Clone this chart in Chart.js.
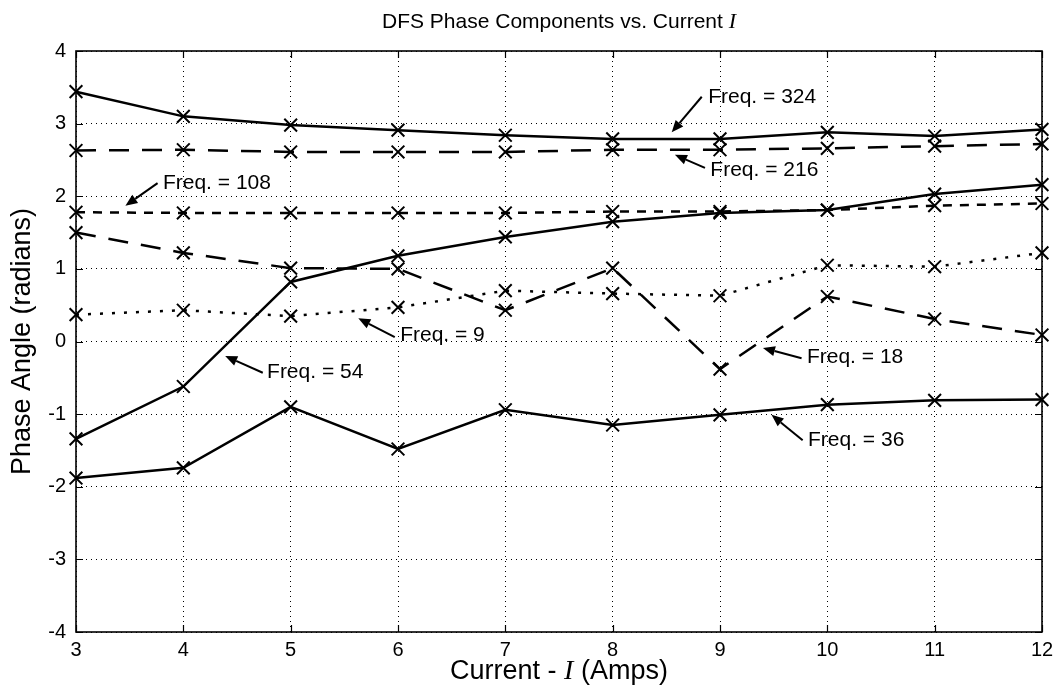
<!DOCTYPE html>
<html>
<head>
<meta charset="utf-8">
<script src="https://cdn.jsdelivr.net/npm/chart.js@4/dist/chart.umd.min.js"></script>
<style>
  html, body { margin: 0; padding: 0; background: #fff; }
  #wrap { width: 1062px; height: 696px; }
</style>
</head>
<body>
<div id="wrap"><canvas id="c" width="1062" height="696"></canvas></div>
<script>
// ---- data ----
const currents = [3, 4, 5, 6, 7, 8, 9, 10, 11, 12];
const freq9   = [0.37, 0.43, 0.35, 0.47, 0.70, 0.66, 0.63, 1.05, 1.03, 1.22];
const freq18  = [1.50, 1.22, 1.01, 1.00, 0.43, 1.01, -0.38, 0.62, 0.31, 0.09];
const freq36  = [-1.88, -1.74, -0.90, -1.48, -0.94, -1.15, -1.01, -0.87, -0.81, -0.80];
const freq54  = [-1.34, -0.62, 0.82, 1.18, 1.44, 1.65, 1.77, 1.81, 2.03, 2.16];
const freq108 = [1.78, 1.77, 1.77, 1.77, 1.77, 1.79, 1.79, 1.81, 1.87, 1.90];
const freq216 = [2.63, 2.64, 2.61, 2.61, 2.61, 2.64, 2.64, 2.66, 2.69, 2.72];
const freq324 = [3.44, 3.10, 2.98, 2.91, 2.84, 2.79, 2.79, 2.88, 2.83, 2.92];
const xTicks = [3, 4, 5, 6, 7, 8, 9, 10, 11, 12];
const yTicks = [-4, -3, -2, -1, 0, 1, 2, 3, 4];

const titleText = ['DFS Phase Components vs. Current ', 'I'];
const xLabelText = ['Current - ', 'I', ' (Amps)'];
const yLabelText = 'Phase Angle (radians)';

// annotation labels: text, text anchor (data), arrow tail (data), arrow head (data)
const noteTexts = ['Freq. = 324', 'Freq. = 216', 'Freq. = 108', 'Freq. = 54', 'Freq. = 9', 'Freq. = 18', 'Freq. = 36'];
const noteTextX = [8.89, 8.91, 3.81, 4.78, 6.02, 9.81, 9.82];
const noteTextY = [3.37, 2.36, 2.18, -0.42, 0.09, -0.21, -1.36];
const noteTailX = [8.83, 8.86, 3.76, 4.74, 5.97, 9.76, 9.77];
const noteTailY = [3.37, 2.39, 2.18, -0.43, 0.06, -0.23, -1.36];
const noteHeadX = [8.55, 8.58, 3.46, 4.39, 5.63, 9.40, 9.48];
const noteHeadY = [2.88, 2.57, 1.87, -0.20, 0.32, -0.09, -1.01];

const FONT = '"Liberation Sans", Arial, Helvetica, sans-serif';
const SERIF = '"Liberation Serif", "Times New Roman", serif';

function series(label, ys, dash) {
  return {
    label: label,
    data: currents.map((x, i) => ({ x: x, y: ys[i] })),
    borderColor: '#000',
    backgroundColor: '#000',
    borderWidth: 2.5,
    borderDash: dash,
    pointStyle: 'crossRot',
    pointRadius: 9,
    pointBorderWidth: 2,
    pointBorderColor: '#000',
    pointHoverRadius: 9,
    tension: 0,
    fill: false,
    clip: false
  };
}

const PLOT = { left: 76, top: 51, right: 1042, bottom: 632 };

const decor = {
  id: 'decor',
  beforeDatasetsDraw(chart) {
    const ctx = chart.ctx, xs = chart.scales.x, ys = chart.scales.y;
    const a = chart.chartArea;
    ctx.save();
    ctx.strokeStyle = '#000';
    ctx.lineWidth = 1.2;
    const L = 7;
    xTicks.forEach(v => {
      const px = Math.round(xs.getPixelForValue(v)) + 0.5;
      ctx.beginPath();
      ctx.moveTo(px, a.bottom); ctx.lineTo(px, a.bottom - L);
      ctx.moveTo(px, a.top); ctx.lineTo(px, a.top + L);
      ctx.stroke();
    });
    yTicks.forEach(v => {
      const py = Math.round(ys.getPixelForValue(v)) + 0.5;
      ctx.beginPath();
      ctx.moveTo(a.left, py); ctx.lineTo(a.left + L, py);
      ctx.moveTo(a.right, py); ctx.lineTo(a.right - L, py);
      ctx.stroke();
    });
    ctx.restore();
  },
  afterDraw(chart) {
    const ctx = chart.ctx, xs = chart.scales.x, ys = chart.scales.y;
    const a = chart.chartArea;
    ctx.save();
    ctx.strokeStyle = '#000';
    ctx.lineWidth = 1.6;
    ctx.strokeRect(a.left, a.top, a.right - a.left, a.bottom - a.top);

    ctx.fillStyle = '#000';
    ctx.font = '21px ' + FONT;
    ctx.textBaseline = 'middle';
    ctx.textAlign = 'left';
    noteTexts.forEach((t, i) => {
      const tx = xs.getPixelForValue(noteTextX[i]);
      const ty = ys.getPixelForValue(noteTextY[i]);
      ctx.fillText(t, tx, ty);
      const x1 = xs.getPixelForValue(noteTailX[i]), y1 = ys.getPixelForValue(noteTailY[i]);
      const x2 = xs.getPixelForValue(noteHeadX[i]), y2 = ys.getPixelForValue(noteHeadY[i]);
      const ang = Math.atan2(y2 - y1, x2 - x1);
      const hl = 12, hw = 5;
      const bx = x2 - hl * Math.cos(ang), by = y2 - hl * Math.sin(ang);
      ctx.lineWidth = 2;
      ctx.beginPath(); ctx.moveTo(x1, y1); ctx.lineTo(bx, by); ctx.stroke();
      ctx.beginPath();
      ctx.moveTo(x2, y2);
      ctx.lineTo(bx + hw * Math.sin(ang), by - hw * Math.cos(ang));
      ctx.lineTo(bx - hw * Math.sin(ang), by + hw * Math.cos(ang));
      ctx.closePath(); ctx.fill();
    });

    function mixed(parts, fonts, cx, cy) {
      let w = 0;
      parts.forEach((p, i) => { ctx.font = fonts[i]; w += ctx.measureText(p).width; });
      let x = cx - w / 2;
      ctx.textAlign = 'left';
      ctx.textBaseline = 'middle';
      parts.forEach((p, i) => { ctx.font = fonts[i]; ctx.fillText(p, x, cy); x += ctx.measureText(p).width; });
    }
    const cx = (a.left + a.right) / 2;
    mixed(titleText, ['21px ' + FONT, 'italic 22px ' + SERIF], cx, 22);
    mixed(xLabelText, ['27px ' + FONT, 'italic 28px ' + SERIF, '27px ' + FONT], cx, 672);
    ctx.translate(23, (a.top + a.bottom) / 2);
    ctx.rotate(-Math.PI / 2);
    ctx.font = '27px ' + FONT;
    ctx.textAlign = 'center';
    ctx.textBaseline = 'middle';
    ctx.fillText(yLabelText, 0, 0);
    ctx.restore();
  }
};

new Chart(document.getElementById('c'), {
  type: 'line',
  data: {
    datasets: [
      series('Freq. = 324', freq324, []),
      series('Freq. = 216', freq216, [20, 13]),
      series('Freq. = 108', freq108, [9, 8]),
      series('Freq. = 54', freq54, []),
      series('Freq. = 18', freq18, [20, 13]),
      series('Freq. = 9', freq9, [3, 9]),
      series('Freq. = 36', freq36, [])
    ]
  },
  options: {
    responsive: false,
    animation: false,
    events: [],
    layout: { padding: { left: 0, top: PLOT.top, right: 1062 - PLOT.right, bottom: 0 } },
    plugins: { legend: { display: false }, title: { display: false }, tooltip: { enabled: false } },
    scales: {
      x: {
        type: 'linear', min: 3, max: 12,
        afterFit: s => { s.height = 696 - PLOT.bottom; },
        afterBuildTicks: s => { s.ticks = xTicks.map(v => ({ value: v })); },
        ticks: { color: '#000', font: { family: FONT, size: 20 }, padding: 6, maxRotation: 0, autoSkip: false },
        grid: { color: '#000', lineWidth: 1, drawTicks: false },
        border: { display: false, dash: [1, 4] }
      },
      y: {
        type: 'linear', min: -4, max: 4,
        afterFit: s => { s.width = PLOT.left; },
        afterBuildTicks: s => { s.ticks = yTicks.map(v => ({ value: v })); },
        ticks: { color: '#000', font: { family: FONT, size: 20 }, padding: 10, autoSkip: false },
        grid: { color: '#000', lineWidth: 1, drawTicks: false },
        border: { display: false, dash: [1, 4] }
      }
    }
  },
  plugins: [decor]
});
</script>
</body>
</html>
